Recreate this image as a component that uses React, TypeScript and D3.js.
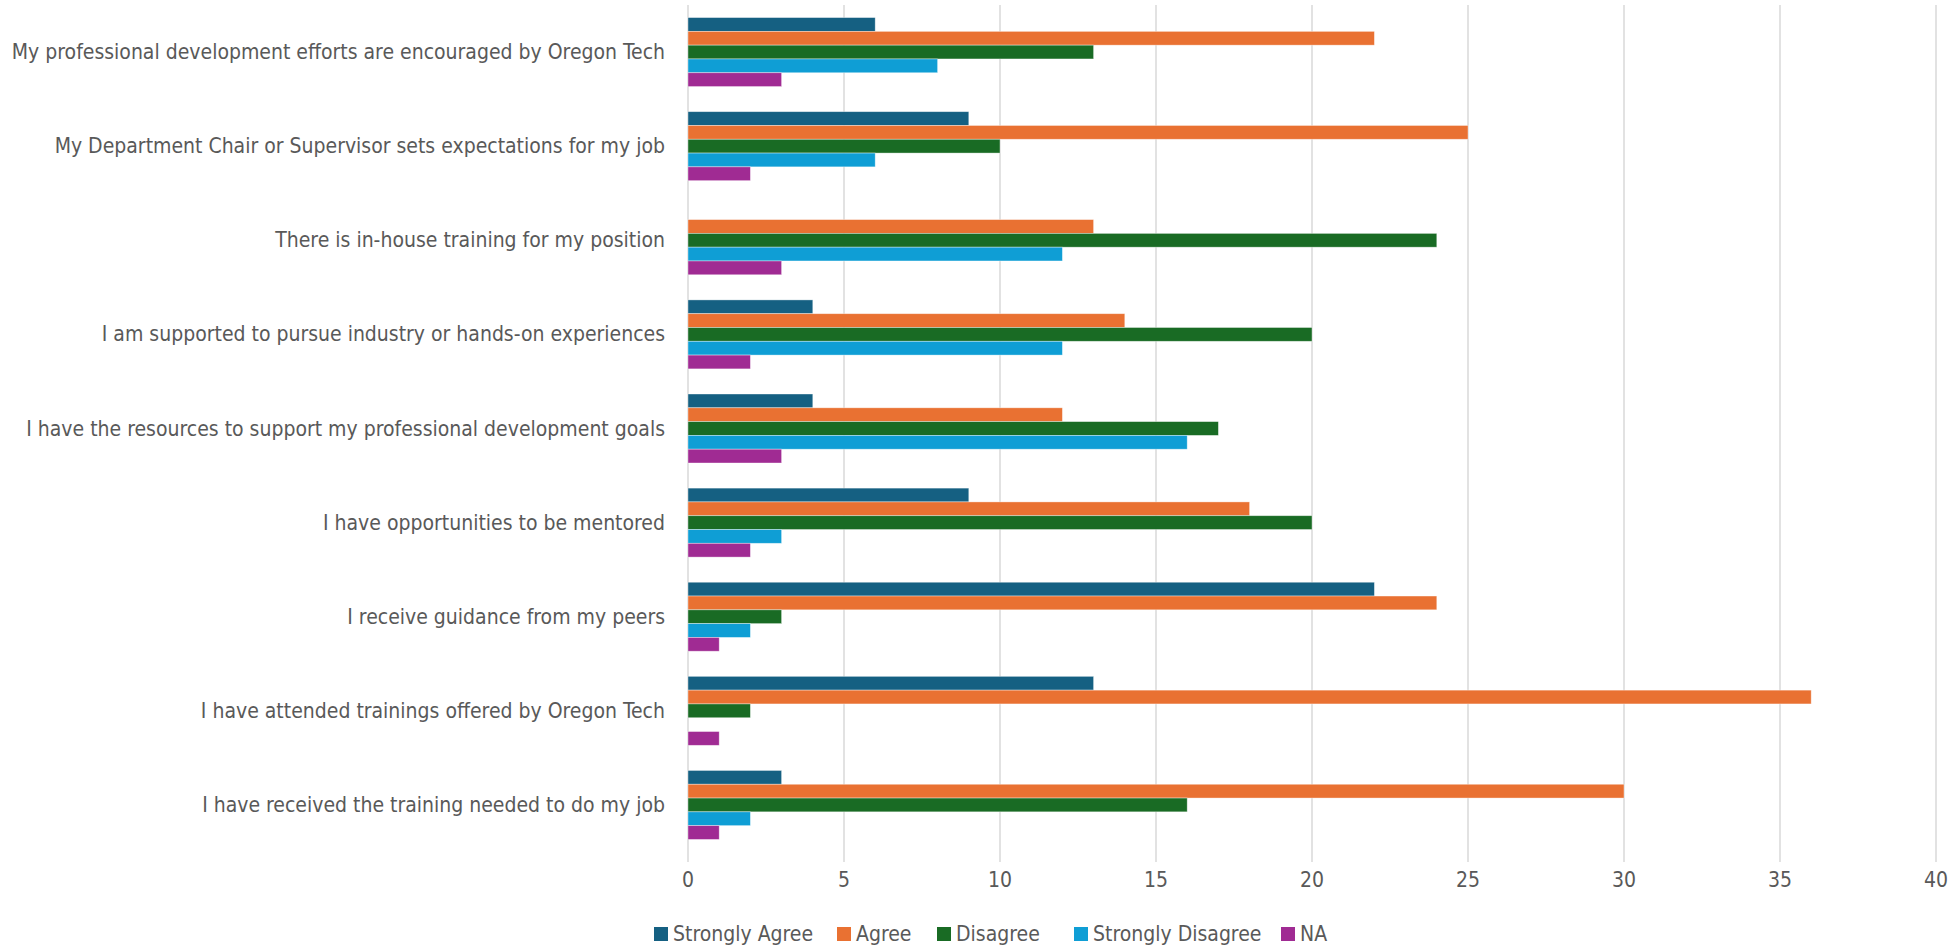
import React from "react";
import * as d3 from "d3";

const categories = [
  "My professional development efforts are encouraged by Oregon Tech",
  "My Department Chair or Supervisor sets expectations for my job",
  "There is in-house training for my position",
  "I am supported to pursue industry or hands-on experiences",
  "I have the resources to support my professional development goals",
  "I have opportunities to be mentored",
  "I receive guidance from my peers",
  "I have attended trainings offered by Oregon Tech",
  "I have received the training needed to do my job",
];

const seriesNames = ["Strongly Agree", "Agree", "Disagree", "Strongly Disagree", "NA"];
const seriesColors = ["#156082", "#E97132", "#196B24", "#0F9ED5", "#A02B93"];

const stronglyAgree = [6, 9, 0, 4, 4, 9, 22, 13, 3];
const agree = [22, 25, 13, 14, 12, 18, 24, 36, 30];
const disagree = [13, 10, 24, 20, 17, 20, 3, 2, 16];
const stronglyDisagree = [8, 6, 12, 12, 16, 3, 2, 0, 2];
const na = [3, 2, 3, 2, 3, 2, 1, 1, 1];

const xTicks = [0, 5, 10, 15, 20, 25, 30, 35, 40];

const W = 1952;
const H = 950;
const FONT = "'DejaVu Sans Condensed', 'Liberation Sans Narrow', sans-serif";

export default function App() {
  const left = 688;
  const right = 1936;
  const top = 5;
  const bottom = 852;
  const series = [stronglyAgree, agree, disagree, stronglyDisagree, na];

  const x = d3.scaleLinear().domain([0, 40]).range([left, right]);
  const y = d3
    .scaleBand<string>()
    .domain(categories)
    .range([top, bottom])
    .paddingInner(0.267)
    .paddingOuter(0.1335);
  const inner = d3
    .scaleBand<string>()
    .domain(seriesNames)
    .range([0, y.bandwidth()]);

  const legendX = [654, 837, 937, 1074, 1281];

  return (
    <svg width={W} height={H} style={{ position: "absolute", left: 0, top: 0, background: "#fff" }}>
      {xTicks.map((t) => (
        <line key={t} x1={x(t)} x2={x(t)} y1={top} y2={bottom + 10} stroke="#D9D9D9" strokeWidth={1.5} />
      ))}
      {categories.map((c, i) => (
        <g key={c}>
          {series.map((s, j) => (
            <rect
              key={j}
              x={x(0)}
              y={(y(c) as number) + (inner(seriesNames[j]) as number)}
              width={x(s[i]) - x(0)}
              height={inner.bandwidth()}
              fill={seriesColors[j]}
              stroke={s[i] > 0 ? "#ffffff" : "none"}
              strokeOpacity={0.5}
              strokeWidth={0.75}
            />
          ))}
          <text
            x={665}
            y={(y(c) as number) + y.bandwidth() / 2}
            textAnchor="end"
            dominantBaseline="central"
            fontFamily={FONT}
            fontSize={21}
            fill="#595959"
          >
            {c}
          </text>
        </g>
      ))}
      {xTicks.map((t) => (
        <text
          key={t}
          x={x(t)}
          y={880}
          textAnchor="middle"
          dominantBaseline="central"
          fontFamily={FONT}
          fontSize={21}
          fill="#595959"
        >
          {t}
        </text>
      ))}
      {seriesNames.map((name, i) => (
        <g key={name}>
          <rect x={legendX[i]} y={927} width={14} height={14} fill={seriesColors[i]} />
          <text
            x={legendX[i] + 19}
            y={934}
            dominantBaseline="central"
            fontFamily={FONT}
            fontSize={21}
            fill="#595959"
          >
            {name}
          </text>
        </g>
      ))}
    </svg>
  );
}
